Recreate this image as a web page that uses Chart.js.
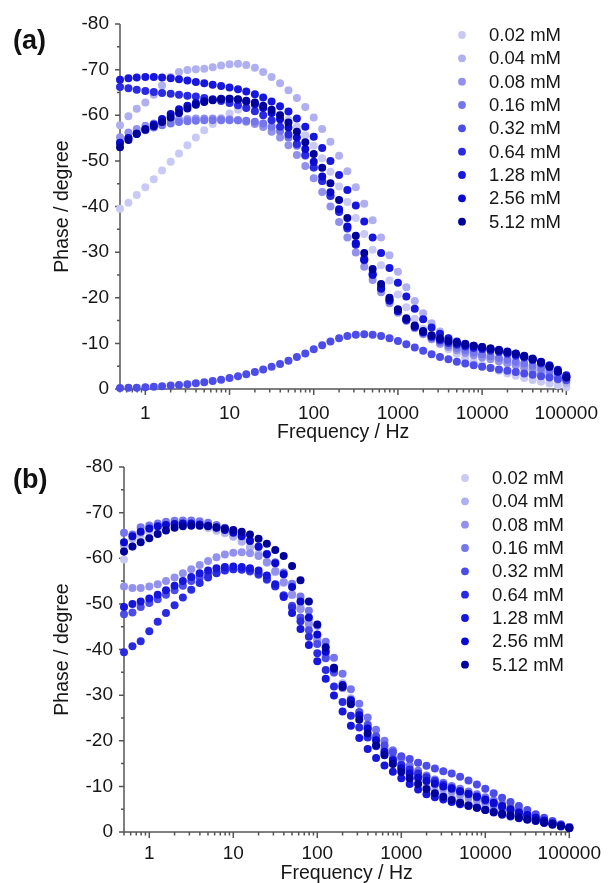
<!DOCTYPE html>
<html>
<head>
<meta charset="utf-8">
<script src="https://cdn.jsdelivr.net/npm/chart.js@4.4.0/dist/chart.umd.min.js"></script>
<style>
  body { margin: 0; background: #fff; }
  #wrap { position: relative; width: 611px; height: 883px; }
  canvas { position: absolute; left: 0; }
  #ca { top: 0; }
  #cb { top: 442px; }
  .tag { position: absolute; left: 13px; font: bold 27px "Liberation Sans", Arial, sans-serif; color: #111; }
</style>
</head>
<body>
<div id="wrap">
  <canvas id="ca" width="611" height="442"></canvas>
  <canvas id="cb" width="611" height="441"></canvas>
  <div class="tag" style="top:25px">(a)</div>
  <div class="tag" style="top:464px">(b)</div>
</div>
<script>
// ---------------- data ----------------
const freqHz = [0.5, 0.63, 0.79,
  1, 1.26, 1.58, 2, 2.51, 3.16, 3.98, 5.01, 6.31, 7.94,
  10, 12.6, 15.8, 20, 25.1, 31.6, 39.8, 50.1, 63.1, 79.4,
  100, 126, 158, 200, 251, 316, 398, 501, 631, 794,
  1000, 1259, 1585, 1995, 2512, 3162, 3981, 5012, 6310, 7943,
  10000, 12589, 15849, 19953, 25119, 31623, 39811, 50119, 63096, 79433,
  100000];

const concLabels = ['0.02 mM', '0.04 mM', '0.08 mM', '0.16 mM', '0.32 mM', '0.64 mM', '1.28 mM', '2.56 mM', '5.12 mM'];
const seriesColors = ['#c9c9f5', '#b0b0f1', '#9292ee', '#7676ec', '#4c4ce9', '#2a2ae3', '#1616dd', '#0a0ad0', '#00009a'];

const xMajorTicks = [1, 10, 100, 1000, 10000, 100000];
const yTickStep = 10;

// panel (a) phase / degree
const a002 = [-39.5, -40.8, -42.5,
  -44.2, -46, -47.9, -49.8, -51.6, -53.4, -55.1, -56.7, -58.1, -59.4,
  -60.4, -61.2, -61.7, -61.9, -61.7, -61.1, -60.2, -59, -57.5, -55.6,
  -53.3, -50.6, -47.6, -44.4, -41, -37.5, -34, -30.5, -27.1, -23.8,
  -20.7, -17.9, -15.4, -13.2, -11.3, -9.8, -8.7, -7.7, -6.8, -6.0,
  -5.3, -4.6, -4.0, -3.4, -2.9, -2.4, -2.0, -1.6, -1.2, -0.8,
  -0.4];
const a004 = [-57.8, -59.8, -61.4,
  -62.8, -64.5, -66.5, -68.4, -69.5, -69.9, -70.1, -70.2, -70.5, -70.9,
  -71.2, -71.3, -71, -70.4, -69.5, -68.4, -67, -65.5, -63.8, -61.8,
  -59.5, -57, -54.2, -51.1, -47.7, -44.2, -40.6, -37, -33.2, -29.3,
  -25.7, -22.3, -19.3, -16.6, -14.4, -12.6, -11.1, -9.9, -8.9, -8.1,
  -7.4, -6.8, -6.2, -5.6, -5.1, -4.5, -3.9, -3.3, -2.7, -2.0,
  -1.3];
const a008 = [-55.2, -56.2, -57,
  -57.7, -58.2, -58.6, -58.9, -59.1, -59.2, -59.3, -59.3, -59.3, -59.2,
  -59.1, -58.9, -58.6, -58.1, -57.4, -56.4, -55.1, -53.4, -51.3, -48.9,
  -46.2, -43.2, -40, -36.6, -33.2, -29.9, -26.8, -23.9, -21.2, -18.8,
  -16.7, -14.9, -13.3, -12, -10.9, -10, -9.2, -8.5, -7.9, -7.4,
  -6.9, -6.5, -6.1, -5.7, -5.3, -4.9, -4.4, -3.9, -3.3, -2.7,
  -2.0];
const a016 = [-54, -55, -55.9,
  -56.7, -57.3, -57.8, -58.2, -58.5, -58.7, -58.8, -58.9, -58.9, -58.9,
  -58.9, -58.9, -58.8, -58.6, -58.2, -57.5, -56.5, -55.1, -53.3, -51.1,
  -48.5, -45.6, -42.4, -39, -35.5, -32, -28.6, -25.4, -22.4, -19.7,
  -17.3, -15.3, -13.6, -12.3, -11.2, -10.3, -9.6, -9, -8.5, -8,
  -7.6, -7.2, -6.8, -6.4, -6, -5.6, -5.1, -4.6, -4.0, -3.4,
  -2.7];
const a032 = [-0.2, -0.25, -0.3,
  -0.4, -0.5, -0.6, -0.75, -0.9, -1.05, -1.25, -1.5, -1.75, -2.05,
  -2.4, -2.8, -3.25, -3.75, -4.3, -4.9, -5.5, -6.2, -7, -7.8,
  -8.7, -9.6, -10.4, -11.1, -11.6, -11.9, -12, -11.9, -11.6, -11.1,
  -10.5, -9.8, -9.1, -8.4, -7.6, -7.0, -6.5, -6.0, -5.6, -5.2,
  -4.9, -4.6, -4.3, -4.0, -3.7, -3.4, -3.1, -2.8, -2.5, -2.2,
  -1.9];
const a064 = [-66.2, -65.9, -65.6,
  -65.3, -65.1, -64.9, -64.7, -64.5, -64.3, -64.1, -63.8, -63.5, -63.1,
  -62.7, -62.2, -61.6, -60.9, -60, -58.9, -57.5, -55.8, -53.7, -51.3,
  -48.6, -45.6, -42.3, -38.8, -35.2, -31.6, -28.2, -25, -22, -19.4,
  -17.1, -15.2, -13.6, -12.4, -11.4, -10.7, -10.1, -9.7, -9.3, -9,
  -8.7, -8.4, -8.1, -7.7, -7.3, -6.9, -6.3, -5.6, -4.8, -3.8,
  -2.7];
const a128 = [-67.8, -68.1, -68.3,
  -68.4, -68.4, -68.3, -68.1, -67.9, -67.6, -67.3, -67, -66.7, -66.4,
  -66.1, -65.7, -65.2, -64.6, -63.9, -63, -62, -60.8, -59.3, -57.5,
  -55.3, -52.8, -50, -46.9, -43.6, -40.2, -36.7, -33.2, -29.8, -26.5,
  -23.3, -20.3, -17.6, -15.3, -13.5, -12.1, -11.1, -10.4, -9.9, -9.5,
  -9.2, -8.9, -8.6, -8.2, -7.8, -7.3, -6.7, -6, -5.2, -4.2,
  -3.0];
const a256 = [-54, -55, -56,
  -57, -58, -59.2, -60.3, -61.3, -62.1, -62.7, -63.1, -63.4, -63.6,
  -63.6, -63.4, -63, -62.4, -61.6, -60.5, -59.1, -57.3, -55.1, -52.6,
  -49.8, -46.6, -43.1, -39.4, -35.6, -31.9, -28.4, -25.1, -22.1, -19.4,
  -17.1, -15.2, -13.7, -12.5, -11.6, -10.9, -10.4, -10, -9.6, -9.3,
  -9, -8.7, -8.4, -8, -7.6, -7.1, -6.5, -5.8, -4.9, -3.8,
  -2.6];
const a512 = [-53, -54.6, -55.9,
  -56.8, -57.6, -58.5, -59.5, -60.5, -61.5, -62.3, -62.9, -63.3, -63.5,
  -63.6, -63.5, -63.2, -62.8, -62.1, -61.2, -60, -58.4, -56.4, -54.1,
  -51.5, -48.5, -45.1, -41.4, -37.5, -33.6, -29.8, -26.3, -23, -20,
  -17.5, -15.5, -13.9, -12.7, -11.8, -11.1, -10.6, -10.2, -9.8, -9.5,
  -9.2, -8.9, -8.5, -8.1, -7.7, -7.2, -6.6, -5.9, -5, -3.9,
  -2.5];

// panel (b) phase / degree
const b002 = [-59.7, -62.5, -64.5,
  -65.8, -66.6, -67.1, -67.4, -67.5, -67.4, -67.1, -66.6, -66, -65.5,
  -64.8, -63.8, -62.5, -61, -59.2, -57, -54.6, -51.9, -48.9, -45.7,
  -42.3, -38.8, -35.3, -31.8, -28.5, -25.4, -22.5, -19.8, -17.4, -15.3,
  -13.4, -11.8, -10.5, -9.4, -8.5, -7.7, -7.1, -6.5, -6, -5.5,
  -5, -4.6, -4.1, -3.7, -3.3, -2.9, -2.5, -2.1, -1.7, -1.3,
  -0.9];
const b004 = [-62.8, -64.3, -65.5,
  -66.4, -67, -67.4, -67.6, -67.7, -67.6, -67.3, -66.9, -66.3, -65.6,
  -64.7, -63.6, -62.3, -60.8, -59, -57, -54.7, -52.1, -49.3, -46.2,
  -42.9, -39.5, -36, -32.6, -29.3, -26.2, -23.3, -20.6, -18.2, -16.1,
  -14.2, -12.6, -11.2, -10, -9, -8.2, -7.5, -6.9, -6.3, -5.8,
  -5.3, -4.8, -4.4, -3.9, -3.5, -3.1, -2.7, -2.3, -1.9, -1.5,
  -1.1];
const b008 = [-53.8, -53.5, -53.5,
  -53.8, -54.3, -55, -55.8, -56.7, -57.6, -58.5, -59.4, -60.2, -60.8,
  -61.2, -61.3, -61.1, -60.5, -59.2, -57.2, -54.8, -52, -48.9, -45.5,
  -42, -38.4, -34.9, -31.5, -28.3, -25.4, -22.7, -20.3, -18.2, -16.4,
  -14.8, -13.4, -12.2, -11.2, -10.3, -9.5, -8.8, -8.1, -7.5, -6.9,
  -6.3, -5.7, -5.1, -4.5, -4, -3.5, -3, -2.5, -2, -1.5,
  -1.0];
const b016 = [-65.6, -65.2, -66.8,
  -67.2, -67.6, -68, -68.2, -68.3, -68.3, -68.1, -67.8, -67.3, -66.7,
  -66, -65.1, -64, -62.6, -61, -59.1, -56.9, -54.4, -51.6, -48.5,
  -45.2, -41.7, -38.2, -34.7, -31.3, -28.1, -25.1, -22.4, -20, -17.9,
  -16.1, -14.6, -13.4, -12.4, -11.5, -10.8, -10.1, -9.5, -8.9, -8.3,
  -7.6, -6.9, -6.2, -5.5, -4.8, -4.1, -3.4, -2.7, -2.1, -1.5,
  -1.0];
const b032 = [-47.7, -48.1, -49.3,
  -50.2, -51, -52, -53, -54, -55, -55.8, -56.5, -57, -57.4,
  -57.6, -57.5, -57.1, -56.4, -55.3, -53.8, -51.9, -49.6, -47, -44.2,
  -41.2, -38.1, -35, -31.9, -29, -26.3, -23.5, -21, -19, -17.5,
  -16.6, -16, -15.2, -14.5, -13.9, -13.3, -12.8, -12.1, -11.3, -10.4,
  -9.5, -8.5, -7.5, -6.6, -5.7, -4.8, -3.9, -3.1, -2.4, -1.7,
  -1.1];
const b064 = [-39.4, -40.7, -41.8,
  -44, -46.1, -48, -49.7, -51.4, -53.1, -54.6, -55.8, -56.7, -57.3,
  -57.6, -57.6, -57.3, -56.6, -55.5, -53.9, -51.8, -49.2, -46.2, -42.8,
  -39.2, -35.5, -31.9, -28.5, -25.5, -22.9, -20.7, -18.8, -17.2, -15.9,
  -14.7, -13.7, -12.8, -12, -11.2, -10.4, -9.7, -9, -8.3, -7.6,
  -6.9, -6.2, -5.5, -4.8, -4.2, -3.6, -3, -2.4, -1.9, -1.4,
  -0.9];
const b128 = [-49.3, -50, -50.5,
  -51.2, -52, -53, -54, -55, -55.9, -56.7, -57.3, -57.8, -58.1,
  -58.2, -58.1, -57.8, -57.3, -56.2, -54.3, -51.5, -48, -44.5, -41,
  -37.4, -33.6, -29.9, -26.4, -23.3, -20.6, -18.2, -16.2, -14.6, -13.2,
  -11.8, -10.5, -9.3, -8.3, -7.6, -7.1, -6.6, -6.1, -5.7, -5.3,
  -4.8, -4.3, -3.8, -3.4, -3, -2.7, -2.4, -2, -1.6, -1.2,
  -0.9];
const b256 = [-63.5, -64.8, -65.8,
  -66.5, -67, -67.3, -67.5, -67.6, -67.6, -67.4, -67.1, -66.7, -66.2,
  -65.6, -64.8, -63.8, -62.5, -60.9, -58.9, -56.5, -53.7, -50.5, -47,
  -43.3, -39.5, -35.8, -32.2, -28.8, -25.6, -22.7, -20.1, -17.6, -15.6,
  -14, -12.8, -11.9, -11.2, -10.6, -10, -9.5, -8.9, -8.4, -7.8,
  -7.1, -6.4, -5.7, -5, -4.3, -3.7, -3.1, -2.5, -1.9, -1.4,
  -0.9];
const b512 = [-61.5, -62.6, -63.5,
  -64.4, -65.3, -66.1, -66.7, -67, -67.1, -67.1, -67, -66.8, -66.5,
  -66.2, -65.8, -65.2, -64.3, -63.2, -61.8, -60.5, -58.3, -55.2, -50.5,
  -45.5, -40.5, -36, -31.8, -28, -24.6, -21.6, -19, -16.8, -14.9,
  -13.2, -11.8, -10.5, -9.4, -8.5, -7.7, -7, -6.4, -5.8, -5.3,
  -4.8, -4.4, -4, -3.6, -3.2, -2.8, -2.5, -2.1, -1.7, -1.3,
  -0.9];

const seriesA = [a002, a004, a008, a016, a032, a064, a128, a256, a512];
const seriesB = [b002, b004, b008, b016, b032, b064, b128, b256, b512];

// ---------------- drawing ----------------
const FONT = '"Liberation Sans", Arial, sans-serif';
const INK = '#161616';

// axis lines + major/minor tick marks, drawn under the points
const axisDeco = {
  id: 'axisDeco',
  beforeDatasetsDraw(chart) {
    const { ctx, chartArea: a, scales: { x, y } } = chart;
    ctx.save();
    ctx.strokeStyle = '#555';
    ctx.lineWidth = 1.5;
    ctx.beginPath();
    ctx.moveTo(a.left, a.top);
    ctx.lineTo(a.left, a.bottom);
    ctx.lineTo(a.right, a.bottom);
    for (let v = y.min; v <= y.max; v += yTickStep / 2) {
      const py = y.getPixelForValue(v);
      const len = v % yTickStep === 0 ? 5 : 3;
      ctx.moveTo(a.left - len, py);
      ctx.lineTo(a.left, py);
    }
    for (let e = -1; e <= 5; e++) {
      for (let m = 1; m < 10; m++) {
        const v = m * Math.pow(10, e);
        if (v < x.min * 0.999 || v > x.max * 1.001) continue;
        const px = x.getPixelForValue(v);
        const len = m === 1 ? 6 : 3.5;
        ctx.moveTo(px, a.bottom);
        ctx.lineTo(px, a.bottom + len);
      }
    }
    ctx.stroke();
    ctx.restore();
  }
};

// legend block in the upper right of the plot
const concLegend = {
  id: 'concLegend',
  afterDraw(chart, args, opts) {
    const ctx = chart.ctx;
    ctx.save();
    ctx.font = '18.5px ' + FONT;
    ctx.textBaseline = 'middle';
    chart.data.datasets.forEach((ds, i) => {
      const yy = opts.y0 + i * 23.33;
      ctx.fillStyle = ds.backgroundColor;
      ctx.beginPath();
      ctx.arc(opts.x, yy, 3.9, 0, Math.PI * 2);
      ctx.fill();
      ctx.fillStyle = INK;
      ctx.fillText(ds.label, opts.x + 27, yy + 1);
    });
    ctx.restore();
  }
};

function buildChart(id, series, g) {
  return new Chart(document.getElementById(id), {
    type: 'scatter',
    data: {
      datasets: series.map((s, i) => ({
        label: concLabels[i],
        data: freqHz.map((f, k) => ({ x: f, y: s[k] })),
        backgroundColor: seriesColors[i],
        borderWidth: 0,
        pointRadius: 4,
        pointHoverRadius: 4,
        clip: false,
        order: series.length - i
      }))
    },
    options: {
      responsive: false,
      animation: false,
      devicePixelRatio: 1,
      layout: { padding: { top: g.top, right: g.right, left: 0, bottom: 0 } },
      plugins: {
        legend: { display: false },
        tooltip: { enabled: false },
        concLegend: { x: g.legendX, y0: g.legendY }
      },
      scales: {
        x: {
          type: 'logarithmic',
          min: 0.5,
          max: 100000,
          afterBuildTicks: s => { s.ticks = xMajorTicks.map(v => ({ value: v })); },
          afterFit: s => { s.height = g.xH; },
          grid: { display: false, drawTicks: false },
          border: { display: false },
          ticks: {
            color: INK, font: { family: FONT, size: 19 }, padding: g.xPad,
            maxRotation: 0, autoSkip: false, callback: v => String(v)
          },
          title: {
            display: true, text: 'Frequency / Hz', color: INK,
            font: { family: FONT, size: 19.5, lineHeight: 1 }, padding: { top: 0, bottom: 0 }
          }
        },
        y: {
          min: -80,
          max: 0,
          reverse: true,
          afterFit: s => { s.width = g.left; },
          grid: { display: false, drawTicks: false },
          border: { display: false },
          ticks: {
            stepSize: yTickStep, color: INK, font: { family: FONT, size: 19 }, padding: 11,
            callback: v => String(v)
          },
          title: {
            display: true, text: 'Phase / degree', color: INK,
            font: { family: FONT, size: 19.5, lineHeight: 1 }, padding: { top: 53, bottom: 0 }
          }
        }
      }
    },
    plugins: [axisDeco, concLegend]
  });
}

buildChart('ca', seriesA, { top: 24, right: 38, left: 120, xH: 53, xPad: 13, legendX: 462, legendY: 35 });
buildChart('cb', seriesB, { top: 25, right: 36, left: 124, xH: 51, xPad: 10, legendX: 465, legendY: 36 });
</script>
</body>
</html>
